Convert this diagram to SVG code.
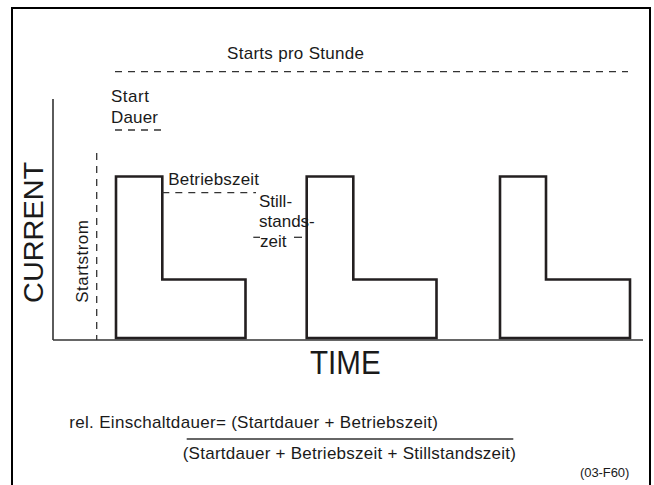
<svg xmlns="http://www.w3.org/2000/svg" width="654" height="485" viewBox="0 0 654 485">
<style>
text{font-family:"Liberation Sans",Arial,sans-serif;fill:#1a1a1a;font-size:17px}
text.big{font-size:28px}
text.time{font-size:33px}
text.small{font-size:13px}
.pulse{fill:none;stroke:#231f20;stroke-width:2.6;stroke-linejoin:miter}
.axis{fill:none;stroke:#333;stroke-width:1.6}
.dash{fill:none;stroke:#333;stroke-width:1.3;stroke-dasharray:7 6}
</style>
<rect x="0" y="0" width="654" height="485" fill="#fff"/>
<path d="M12 490 V8 H650 V490" fill="none" stroke="#000" stroke-width="2"/>
<g id="axes">
<line class="axis" x1="53" y1="99" x2="53" y2="340"/>
<line class="axis" x1="53" y1="340" x2="643" y2="340"/>
<text class="big" x="43" y="232.4" text-anchor="middle" textLength="141" lengthAdjust="spacingAndGlyphs" transform="rotate(-90 43 232.4)">CURRENT</text>
<text class="time" x="345.3" y="374.3" text-anchor="middle" textLength="70.7" lengthAdjust="spacingAndGlyphs">TIME</text>
</g>
<g id="pulse1"><path class="pulse" d="M116 338 V176.5 H162.3 V279.5 H245.5 V338 Z"/></g>
<g id="pulse2"><path class="pulse" d="M306.7 338 V176.5 H353.3 V279.5 H436.5 V338 Z"/></g>
<g id="pulse3"><path class="pulse" d="M500 338 V176.5 H546 V279.5 H630 V338 Z"/></g>
<g id="connectors">
<line class="dash" x1="115" y1="71.7" x2="628" y2="71.7"/>
<line class="dash" x1="115" y1="130" x2="167" y2="130"/>
<line class="dash" x1="96.7" y1="153" x2="96.7" y2="340"/>
<line class="dash" x1="162.3" y1="192.7" x2="256" y2="192.7"/>
<line class="dash" x1="253.3" y1="237.3" x2="260" y2="237.3" style="stroke-dasharray:none"/>
<line class="dash" x1="294" y1="237.3" x2="302" y2="237.3" style="stroke-dasharray:none"/>
</g>
<g id="labels">
<text x="227" y="59.3" textLength="137">Starts pro Stunde</text>
<text x="111" y="101.7" textLength="38">Start</text>
<text x="111" y="122.7" textLength="47">Dauer</text>
<text x="168.3" y="185" textLength="90.7">Betriebszeit</text>
<text x="259" y="206.7">Still-</text>
<text x="259" y="227">stands-</text>
<text x="260" y="247.3">zeit</text>
<text x="88" y="261.4" text-anchor="middle" textLength="82.7" transform="rotate(-90 88 261.4)">Startstrom</text>
</g>
<g id="formula">
<text x="69.3" y="428.3" textLength="368.7">rel. Einschaltdauer= (Startdauer + Betriebszeit)</text>
<line x1="186.7" y1="439" x2="513.3" y2="439" stroke="#333" stroke-width="1.5"/>
<text x="182.7" y="459.3" textLength="333.3">(Startdauer + Betriebszeit + Stillstandszeit)</text>
<text class="small" x="580" y="477.3" textLength="49.3">(03-F60)</text>
</g>
</svg>
